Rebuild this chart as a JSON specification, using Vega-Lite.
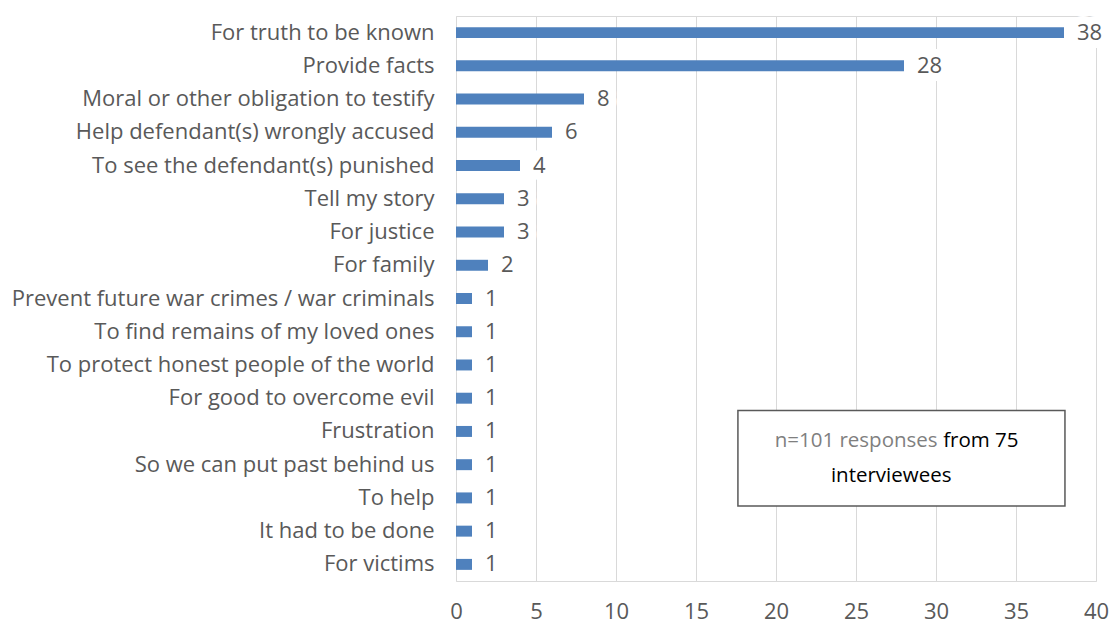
{
  "$schema": "https://vega.github.io/schema/vega-lite/v6.json",
  "width": 640,
  "height": 565,
  "autosize": "none",
  "padding": {"left": 456, "top": 16, "right": 14, "bottom": 42},
  "background": "white",
  "config": {
    "font": "Open Sans",
    "view": {"stroke": "#d9d9d9", "strokeWidth": 1}
  },
  "datasets": {
    "bars": [
      {"reason": "For truth to be known", "count": 38},
      {"reason": "Provide facts", "count": 28},
      {"reason": "Moral or other obligation to testify", "count": 8},
      {"reason": "Help defendant(s) wrongly accused", "count": 6},
      {"reason": "To see the defendant(s) punished", "count": 4},
      {"reason": "Tell my story", "count": 3},
      {"reason": "For justice", "count": 3},
      {"reason": "For family", "count": 2},
      {"reason": "Prevent future war crimes / war criminals", "count": 1},
      {"reason": "To find remains of my loved ones", "count": 1},
      {"reason": "To protect honest people of the world", "count": 1},
      {"reason": "For good to overcome evil ", "count": 1},
      {"reason": "Frustration", "count": 1},
      {"reason": "So we can put past behind us", "count": 1},
      {"reason": "To help", "count": 1},
      {"reason": "It had to be done", "count": 1},
      {"reason": "For victims", "count": 1}
    ],
    "box": [{"x1": 17.62, "x2": 38.06, "y1": 11.87, "y2": 14.74}],
    "grey": [{"x": 30.1, "y": 12.78, "t": "n=101 responses"}],
    "black": [
      {"x": 30.45, "y": 12.78, "t": "from 75"}
    ],
    "black2": [
      {"x": 27.2, "y": 13.83, "t": "interviewees"}
    ]
  },
  "layer": [
    {
      "data": {"name": "bars"},
      "layer": [
        {
          "mark": {"type": "bar", "color": "#4F81BD"},
          "encoding": {
            "y": {
              "field": "reason", "type": "nominal", "sort": null,
              "scale": {"paddingInner": 0.67, "paddingOuter": 0.335},
              "axis": {"title": null, "ticks": false, "domain": false, "grid": false,
                       "labelFontSize": 22, "labelColor": "#595959", "labelPadding": 22,
                       "labelLimit": 0, "labelFont": "Open Sans"}
            },
            "x": {
              "field": "count", "type": "quantitative",
              "scale": {"domain": [0, 40], "nice": false},
              "axis": {"title": null, "values": [0, 5, 10, 15, 20, 25, 30, 35, 40],
                       "grid": true, "gridColor": "#d9d9d9", "domain": false, "ticks": false,
                       "labelFlush": false, "labelOverlap": false,
                       "labelFontSize": 22, "labelColor": "#595959", "labelPadding": 20,
                       "labelFont": "Open Sans"}
            }
          }
        },
        {
          "mark": {"type": "text", "align": "left", "baseline": "middle", "dx": 13,
                   "fontSize": 22, "stroke": "white", "strokeWidth": 16, "color": "white",
                   "strokeJoin": "round"},
          "encoding": {
            "y": {"field": "reason", "type": "nominal", "sort": null},
            "x": {"field": "count", "type": "quantitative"},
            "text": {"field": "count", "type": "quantitative"}
          }
        },
        {
          "mark": {"type": "text", "align": "left", "baseline": "middle", "dx": 13,
                   "fontSize": 22, "color": "#595959"},
          "encoding": {
            "y": {"field": "reason", "type": "nominal", "sort": null},
            "x": {"field": "count", "type": "quantitative"},
            "text": {"field": "count", "type": "quantitative"}
          }
        }
      ]
    },
    {
      "data": {"name": "box"},
      "mark": {"type": "rect", "fill": "white", "stroke": "#595959", "strokeWidth": 1.5},
      "encoding": {
        "x": {"field": "x1", "type": "quantitative"},
        "x2": {"field": "x2"},
        "y": {"field": "y1", "type": "quantitative", "scale": {"domain": [0, 17], "reverse": true, "nice": false}, "axis": null},
        "y2": {"field": "y2"}
      }
    },
    {
      "data": {"name": "grey"},
      "mark": {"type": "text", "align": "right", "baseline": "middle", "fontSize": 20.5, "color": "#7f7f7f"},
      "encoding": {
        "x": {"field": "x", "type": "quantitative"},
        "y": {"field": "y", "type": "quantitative", "scale": {"domain": [0, 17], "reverse": true, "nice": false}, "axis": null},
        "text": {"field": "t"}
      }
    },
    {
      "data": {"name": "black"},
      "mark": {"type": "text", "align": "left", "baseline": "middle", "fontSize": 20.5, "color": "#000000"},
      "encoding": {
        "x": {"field": "x", "type": "quantitative"},
        "y": {"field": "y", "type": "quantitative", "scale": {"domain": [0, 17], "reverse": true, "nice": false}, "axis": null},
        "text": {"field": "t"}
      }
    },
    {
      "data": {"name": "black2"},
      "mark": {"type": "text", "align": "center", "baseline": "middle", "fontSize": 20.5, "color": "#000000"},
      "encoding": {
        "x": {"field": "x", "type": "quantitative"},
        "y": {"field": "y", "type": "quantitative", "scale": {"domain": [0, 17], "reverse": true, "nice": false}, "axis": null},
        "text": {"field": "t"}
      }
    }
  ],
  "resolve": {"scale": {"y": "independent"}, "axis": {"y": "independent"}}
}
